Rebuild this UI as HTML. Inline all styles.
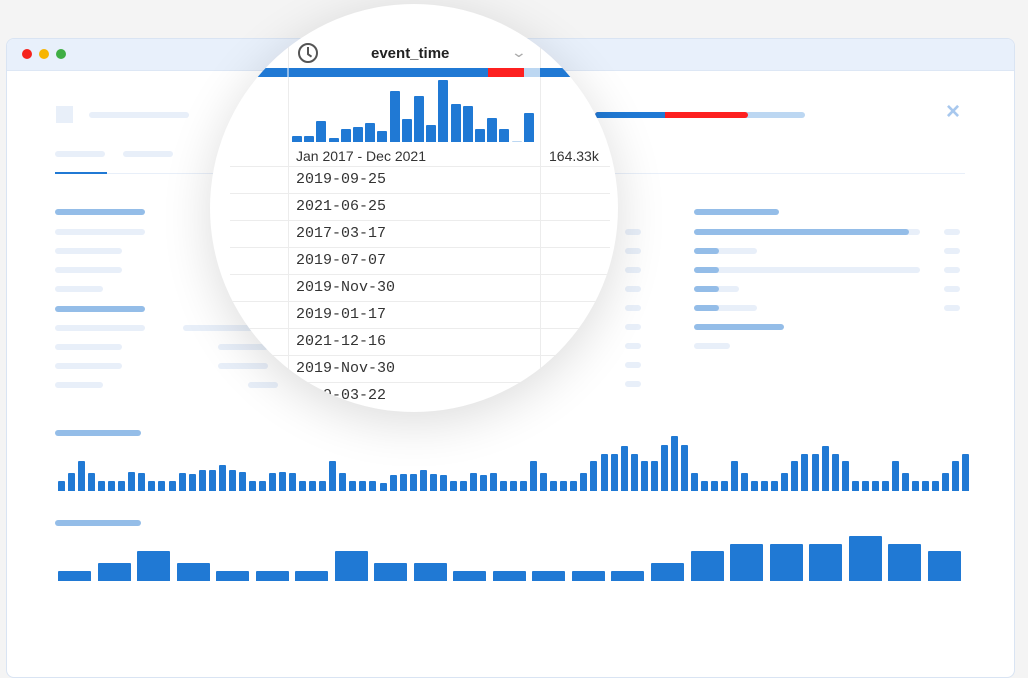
<!DOCTYPE html>
<html><head><meta charset="utf-8"><style>
*{margin:0;padding:0;box-sizing:border-box}
body{width:1028px;height:610px;background:#f4f4f4;position:relative;overflow:hidden;font-family:"Liberation Sans",sans-serif}
.a{position:absolute}
.l{position:absolute;height:6px;border-radius:3px;background:#e8eff9}
.m{position:absolute;height:6px;border-radius:3px;background:#94bde8}
.win{left:6px;top:38px;width:1009px;height:640px;background:#fff;border:1px solid #d9e4f3;border-radius:8px;overflow:hidden}
.bars{position:absolute;display:flex;justify-content:space-between;align-items:flex-end}
.bars div{background:#2079d4;border-radius:1px 1px 0 0}
.t div{width:7px}
.b div{width:33px}
.h div{width:10px}
.circ{left:210px;top:4px;width:408px;height:408px;border-radius:50%;background:#fff;overflow:hidden;box-shadow:0 10px 50px rgba(0,0,0,.14)}
.row{position:absolute;left:78px;font-family:"Liberation Mono",monospace;font-size:15px;color:#333}
.sep{position:absolute;left:20px;width:380px;height:1px;background:#ececec}
</style></head><body>
<div class="a win">
 <div class="a" style="left:0;top:0;width:1009px;height:32px;background:#e8f0fb;border-bottom:1px solid #dde7f5"></div>
 <div class="a" style="left:15px;top:10px;width:10px;height:10px;border-radius:50%;background:#f5221c"></div>
 <div class="a" style="left:32px;top:10px;width:10px;height:10px;border-radius:50%;background:#f7b500"></div>
 <div class="a" style="left:49px;top:10px;width:10px;height:10px;border-radius:50%;background:#3fae44"></div>
</div>
<div class="a" style="left:56px;top:106px;width:17px;height:17px;background:#e8eff9"></div>
<div class="l" style="left:89px;top:112px;width:100px"></div>
<div class="l" style="left:55px;top:151px;width:50px"></div>
<div class="l" style="left:123px;top:151px;width:50px"></div>
<div class="a" style="left:55px;top:173px;width:910px;height:1px;background:#e8eff9"></div>
<div class="a" style="left:55px;top:172px;width:52px;height:2px;background:#2079d4"></div>
<div class="m" style="left:55px;top:209px;width:90px"></div>
<div class="l" style="left:55px;top:229px;width:90px"></div>
<div class="l" style="left:55px;top:248px;width:67px"></div>
<div class="l" style="left:55px;top:267px;width:67px"></div>
<div class="l" style="left:55px;top:286px;width:48px"></div>
<div class="m" style="left:55px;top:306px;width:90px"></div>
<div class="l" style="left:55px;top:325px;width:90px"></div>
<div class="l" style="left:183px;top:325px;width:70px"></div>
<div class="l" style="left:55px;top:344px;width:67px"></div>
<div class="l" style="left:218px;top:344px;width:50px"></div>
<div class="l" style="left:55px;top:363px;width:67px"></div>
<div class="l" style="left:218px;top:363px;width:50px"></div>
<div class="l" style="left:55px;top:382px;width:48px"></div>
<div class="l" style="left:248px;top:382px;width:30px"></div>
<div class="a" style="left:595px;top:112px;width:210px;height:6px;border-radius:3px;background:#bcd7f2"></div>
<div class="a" style="left:595px;top:112px;width:153px;height:6px;border-radius:3px;background:#fd2020"></div>
<div class="a" style="left:595px;top:112px;width:70px;height:6px;border-radius:3px 0 0 3px;background:#2079d4"></div>
<div class="a" style="left:946px;top:98px;font-size:24px;color:#a8c8ee;font-weight:bold">×</div>
<div class="m" style="left:694px;top:209px;width:85px"></div>
<div class="l" style="left:694px;top:229px;width:226px"></div><div class="m" style="left:694px;top:229px;width:215px"></div>
<div class="l" style="left:694px;top:248px;width:63px"></div><div class="m" style="left:694px;top:248px;width:25px"></div>
<div class="l" style="left:694px;top:267px;width:226px"></div><div class="m" style="left:694px;top:267px;width:25px"></div>
<div class="l" style="left:694px;top:286px;width:45px"></div><div class="m" style="left:694px;top:286px;width:25px"></div>
<div class="l" style="left:694px;top:305px;width:63px"></div><div class="m" style="left:694px;top:305px;width:25px"></div>
<div class="m" style="left:694px;top:324px;width:90px"></div>
<div class="l" style="left:694px;top:343px;width:36px"></div>
<div class="l" style="left:625px;top:229px;width:16px"></div><div class="l" style="left:625px;top:248px;width:16px"></div><div class="l" style="left:625px;top:267px;width:16px"></div><div class="l" style="left:625px;top:286px;width:16px"></div><div class="l" style="left:625px;top:305px;width:16px"></div><div class="l" style="left:625px;top:324px;width:16px"></div><div class="l" style="left:625px;top:343px;width:16px"></div><div class="l" style="left:625px;top:362px;width:16px"></div><div class="l" style="left:625px;top:381px;width:16px"></div>
<div class="l" style="left:944px;top:229px;width:16px"></div><div class="l" style="left:944px;top:248px;width:16px"></div><div class="l" style="left:944px;top:267px;width:16px"></div><div class="l" style="left:944px;top:286px;width:16px"></div><div class="l" style="left:944px;top:305px;width:16px"></div>
<div class="m" style="left:55px;top:430px;width:86px"></div>
<div class="m" style="left:55px;top:520px;width:86px"></div>
<div class="bars t" style="left:58px;top:420px;width:912px;height:71px">
<div style="height:10px"></div><div style="height:18px"></div><div style="height:30px"></div><div style="height:18px"></div><div style="height:10px"></div><div style="height:10px"></div><div style="height:10px"></div><div style="height:19px"></div><div style="height:18px"></div><div style="height:10px"></div><div style="height:10px"></div><div style="height:10px"></div><div style="height:18px"></div><div style="height:17px"></div><div style="height:21px"></div><div style="height:21px"></div><div style="height:26px"></div><div style="height:21px"></div><div style="height:19px"></div><div style="height:10px"></div><div style="height:10px"></div><div style="height:18px"></div><div style="height:19px"></div><div style="height:18px"></div><div style="height:10px"></div><div style="height:10px"></div><div style="height:10px"></div><div style="height:30px"></div><div style="height:18px"></div><div style="height:10px"></div><div style="height:10px"></div><div style="height:10px"></div><div style="height:8px"></div><div style="height:16px"></div><div style="height:17px"></div><div style="height:17px"></div><div style="height:21px"></div><div style="height:17px"></div><div style="height:16px"></div><div style="height:10px"></div><div style="height:10px"></div><div style="height:18px"></div><div style="height:16px"></div><div style="height:18px"></div><div style="height:10px"></div><div style="height:10px"></div><div style="height:10px"></div><div style="height:30px"></div><div style="height:18px"></div><div style="height:10px"></div><div style="height:10px"></div><div style="height:10px"></div><div style="height:18px"></div><div style="height:30px"></div><div style="height:37px"></div><div style="height:37px"></div><div style="height:45px"></div><div style="height:37px"></div><div style="height:30px"></div><div style="height:30px"></div><div style="height:46px"></div><div style="height:55px"></div><div style="height:46px"></div><div style="height:18px"></div><div style="height:10px"></div><div style="height:10px"></div><div style="height:10px"></div><div style="height:30px"></div><div style="height:18px"></div><div style="height:10px"></div><div style="height:10px"></div><div style="height:10px"></div><div style="height:18px"></div><div style="height:30px"></div><div style="height:37px"></div><div style="height:37px"></div><div style="height:45px"></div><div style="height:37px"></div><div style="height:30px"></div><div style="height:10px"></div><div style="height:10px"></div><div style="height:10px"></div><div style="height:10px"></div><div style="height:30px"></div><div style="height:18px"></div><div style="height:10px"></div><div style="height:10px"></div><div style="height:10px"></div><div style="height:18px"></div><div style="height:30px"></div><div style="height:37px"></div>
</div>
<div class="bars b" style="left:58px;top:530px;width:903px;height:51px">
<div style="height:10px"></div><div style="height:18px"></div><div style="height:30px"></div><div style="height:18px"></div><div style="height:10px"></div><div style="height:10px"></div><div style="height:10px"></div><div style="height:30px"></div><div style="height:18px"></div><div style="height:18px"></div><div style="height:10px"></div><div style="height:10px"></div><div style="height:10px"></div><div style="height:10px"></div><div style="height:10px"></div><div style="height:18px"></div><div style="height:30px"></div><div style="height:37px"></div><div style="height:37px"></div><div style="height:37px"></div><div style="height:45px"></div><div style="height:37px"></div><div style="height:30px"></div>
</div>
<div class="a circ">
 <div class="a" style="left:78px;top:0;width:1px;height:408px;background:#ececec"></div>
 <div class="a" style="left:330px;top:0;width:1px;height:408px;background:#ececec"></div>
 <div class="a" style="left:88px;top:39px;width:20px;height:20px;border:2px solid #555;border-radius:50%"></div>
 <div class="a" style="left:97px;top:43px;width:2px;height:7px;background:#555"></div>
 <div class="a" style="left:98px;top:49px;width:5px;height:2px;background:#555;transform:rotate(35deg);transform-origin:0 0"></div>
 <div class="a" style="left:161px;top:41px;font-size:15px;color:#222;font-weight:600">event_time</div>
 <div class="a" style="left:303px;top:40px;font-size:14px;color:#aaa;transform:scaleX(1.4)">⌄</div>
 <div class="a" style="left:0;top:64px;width:408px;height:9px;background:#2079d4"></div>
 <div class="a" style="left:278px;top:64px;width:36px;height:9px;background:#fd2020"></div>
 <div class="a" style="left:314px;top:64px;width:16px;height:9px;background:#bcd7f2"></div>
 <div class="a" style="left:77px;top:64px;width:2px;height:9px;background:#fff;opacity:.5"></div>
 <div class="bars h" style="left:82px;top:72px;width:242px;height:66px">
 <div style="height:6px"></div><div style="height:6px"></div><div style="height:21px"></div><div style="height:4px"></div><div style="height:13px"></div><div style="height:15px"></div><div style="height:19px"></div><div style="height:11px"></div><div style="height:51px"></div><div style="height:23px"></div><div style="height:46px"></div><div style="height:17px"></div><div style="height:62px"></div><div style="height:38px"></div><div style="height:36px"></div><div style="height:13px"></div><div style="height:24px"></div><div style="height:13px"></div><div style="height:1px;background:#bcd7f2"></div><div style="height:29px"></div>
 </div>
 <div class="a" style="left:86px;top:144px;font-size:14px;color:#333">Jan 2017 - Dec 2021</div>
 <div class="a" style="left:339px;top:144px;font-size:14px;color:#333">164.33k</div>
 <div class="sep" style="top:162px"></div>
 <div class="row" style="top:167px;left:86px">2019-09-25</div><div class="sep" style="top:189px"></div>
 <div class="row" style="top:194px;left:86px">2021-06-25</div><div class="sep" style="top:216px"></div>
 <div class="row" style="top:221px;left:86px">2017-03-17</div><div class="sep" style="top:243px"></div>
 <div class="row" style="top:248px;left:86px">2019-07-07</div><div class="sep" style="top:270px"></div>
 <div class="row" style="top:275px;left:86px">2019-Nov-30</div><div class="sep" style="top:297px"></div>
 <div class="row" style="top:302px;left:86px">2019-01-17</div><div class="sep" style="top:324px"></div>
 <div class="row" style="top:329px;left:86px">2021-12-16</div><div class="sep" style="top:351px"></div>
 <div class="row" style="top:356px;left:86px">2019-Nov-30</div><div class="sep" style="top:378px"></div>
 <div class="row" style="top:383px;left:86px">2019-03-22</div>
</div>
</body></html>
